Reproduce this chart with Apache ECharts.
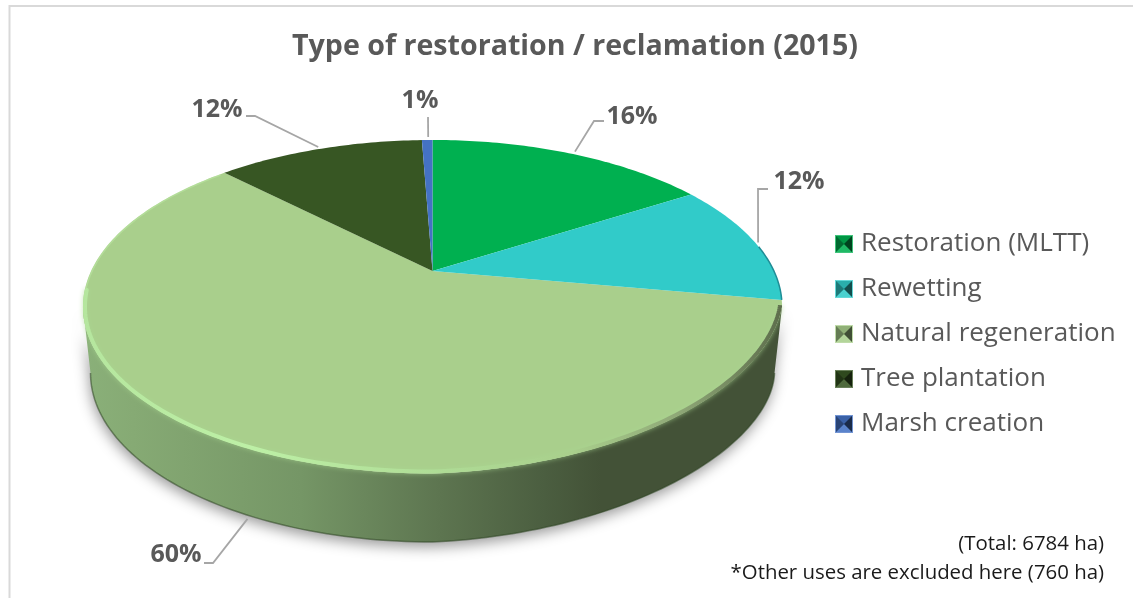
<!DOCTYPE html>
<html><head><meta charset="utf-8">
<style>html,body{margin:0;padding:0;background:#fff}#c{width:1133px;height:598px}</style>
<script src="https://cdn.jsdelivr.net/npm/echarts@6/dist/echarts.min.js"></script>
</head><body><div id="c"></div>
<script>
var categories = ['Restoration (MLTT)', 'Rewetting', 'Natural regeneration', 'Tree plantation', 'Marsh creation'];
var shares = [16.0, 11.8, 59.8, 11.8, 0.6];
var colors = ['#00b050', '#31cbc9', '#a9cf8c', '#375623', '#4472c4'];
var titleText = 'Type of restoration / reclamation (2015)';
var notes = ['(Total: 6784 ha)', '*Other uses are excluded here (760 ha)'];

// perspective disc geometry
var G = {cx: 432.5, cy: 271, a: 341.4, b: 159.1, k: 0.2144, midY: 306.8};
var W = {cy: 373, rx: 342, ry: 169};
var RIGHT_EDGE = 102.4 * Math.PI / 180, LEFT_EDGE = 257.6 * Math.PI / 180;
function proj(th) {
  var u = Math.sin(th), v = -Math.cos(th), w = 1 - G.k * v;
  var y = G.cy + G.b * v / w;
  if (th > RIGHT_EDGE && th < Math.PI) {
    y -= 13 * Math.sin(Math.PI * Math.pow((th - RIGHT_EDGE) / (Math.PI - RIGHT_EDGE), 0.5));
  }
  return [G.cx + G.a * u / w, y];
}
var total = shares.reduce(function (s, v) { return s + v; }, 0);
var cum = [], acc = 0;
shares.forEach(function (v) { cum.push(acc); acc += v; });
function ang(p) { return p / total * Math.PI * 2; }
function arc(t0, t1, n) {
  n = n || Math.max(4, Math.ceil(Math.abs(t1 - t0) * 60));
  var pts = [];
  for (var i = 0; i <= n; i++) pts.push(proj(t0 + (t1 - t0) * i / n));
  return pts;
}
// label placement: nudge from the slice edge, elbow points and text anchor
var labelLayout = [
  {nudge: [4, -2], elbow: [[594, 121], [604, 121]], text: [632, 117]},
  {nudge: [4, 1], elbow: [[758, 189], [768, 189]], text: [799, 182]},
  {nudge: [11, 74], elbow: [[213, 563], [204, 563]], text: [176, 555]},
  {nudge: [-1, -2], elbow: [[255, 116], [246, 116]], text: [217, 110]},
  {nudge: [1, -3], elbow: [[428, 117]], text: [420, 101]}
];
var LG = echarts.graphic.LinearGradient;
function wallChildren() {
  var pts = arc(RIGHT_EDGE, LEFT_EDGE, 160);
  var bottom = [];
  for (var i = 0; i <= 120; i++) {
    var t = Math.PI * i / 120; // left to right along the front
    var y = W.cy + W.ry * Math.sin(t);
    if (t > Math.PI / 2) y -= 11 * Math.sin(Math.PI * Math.pow((Math.PI - t) / (Math.PI / 2), 0.7));
    bottom.push([G.cx - W.rx * Math.cos(t), y]);
  }
  var wallPts = pts.concat(bottom);
  var grad = new LG(84, 0, 782, 0, [
    {offset: 0, color: '#8ab079'}, {offset: 0.07, color: '#86aa74'},
    {offset: 0.31, color: '#759666'}, {offset: 0.51, color: '#5d7550'},
    {offset: 0.66, color: '#4b5e40'}, {offset: 0.74, color: '#435237'}, {offset: 1, color: '#435237'}
  ], true);
  return [
    {type: 'polygon', shape: {points: wallPts}, style: {fill: grad, shadowBlur: 14, shadowColor: 'rgba(0,0,0,0.4)', shadowOffsetX: -1, shadowOffsetY: 5}},
    {type: 'polyline', shape: {points: bottom}, style: {fill: 'none', stroke: 'rgba(45,70,35,0.55)', lineWidth: 1.5}}
  ];
}
function rimChildren(t0, t1) {
  var grad = new LG(84, 0, 782, 0, [
    {offset: 0, color: '#b5e69e'}, {offset: 0.24, color: '#bdf0a6'},
    {offset: 0.52, color: '#aedb95'}, {offset: 0.7, color: '#a9cf8c'},
    {offset: 0.85, color: '#8fa877'}, {offset: 1, color: '#5d6d4c'}
  ], true);
  var inset = function (pts, d) {
    return pts.map(function (p) {
      var dx = p[0] - G.cx, dy = p[1] - G.midY, r = Math.sqrt(dx * dx + dy * dy);
      return [p[0] - dx / r * d, p[1] - dy / r * d];
    });
  };
  return [
    {type: 'polyline', shape: {points: inset(arc(RIGHT_EDGE, LEFT_EDGE + 0.1, 160), 2)}, style: {fill: 'none', stroke: grad, lineWidth: 4, lineCap: 'round', shadowBlur: 5, shadowColor: 'rgba(170,215,145,0.7)'}},
    {type: 'polyline', shape: {points: inset(arc(LEFT_EDGE + 0.1, t1 - 0.02, 50), 1)}, style: {fill: 'none', stroke: 'rgba(190,235,165,0.5)', lineWidth: 1.5}}
  ];
}
function makeRender(idx) {
  return function () {
    var t0 = ang(cum[idx]), t1 = ang(cum[idx] + shares[idx]);
    var children = [];
    if (idx === 2) children = children.concat(wallChildren());
    var apex = [G.cx, G.cy];
    children.push({type: 'polygon', shape: {points: [apex].concat(arc(t0, t1))}, style: {fill: colors[idx]}});
    if (idx === 2) children = children.concat(rimChildren(t0, t1));
    if (idx === 1) children.push({type: 'polyline', shape: {points: arc(t0 + (t1 - t0) * 0.55, t1)}, style: {fill: 'none', stroke: '#1f8d96', lineWidth: 1.5}});
    var L = labelLayout[idx];
    var tm = (t0 + t1) / 2, p = proj(tm);
    var anchor = [p[0] + L.nudge[0], p[1] + L.nudge[1]];
    children.push({type: 'polyline', shape: {points: [anchor].concat(L.elbow)}, style: {fill: 'none', stroke: '#a6a6a6', lineWidth: 1.8}});
    children.push({type: 'text', style: {x: L.text[0], y: L.text[1], text: Math.round(shares[idx] / total * 100) + '%', fill: '#595959', font: 'bold 25px "Open Sans"', align: 'center', verticalAlign: 'middle'}});
    return {type: 'group', children: children};
  };
}
function shade(hex, f) {
  var n = parseInt(hex.slice(1), 16), c = [n >> 16, (n >> 8) & 255, n & 255];
  c = c.map(function (v) { return Math.round(f >= 1 ? v + (255 - v) * (f - 1) : v * f); });
  return 'rgb(' + c.join(',') + ')';
}
function icon(hex) {
  var s = 36, m = s / 2, cv = document.createElement('canvas');
  cv.width = cv.height = s;
  var g = cv.getContext('2d');
  function tri(a, b, col) {
    g.fillStyle = col; g.beginPath(); g.moveTo(a[0], a[1]); g.lineTo(b[0], b[1]); g.lineTo(m, m); g.closePath(); g.fill();
  }
  g.fillStyle = shade(hex, 0.8); g.fillRect(0, 0, s, s);
  tri([0, 0], [s, 0], shade(hex, 0.85));
  tri([0, s], [s, s], shade(hex, 1.12));
  tri([0, 0], [0, s], shade(hex, 0.6));
  tri([s, 0], [s, s], shade(hex, 0.38));
  g.strokeStyle = shade(hex, 1.25); g.lineWidth = 2; g.strokeRect(1, 1, s - 2, s - 2);
  return 'image://' + cv.toDataURL();
}
var chart = echarts.init(document.getElementById('c'), null, {renderer: 'canvas'});
chart.setOption({
  animation: false,
  backgroundColor: '#fff',
  color: colors,
  title: {text: titleText, left: 292, top: 32, padding: 0, textStyle: {color: '#595959', fontFamily: 'Open Sans', fontWeight: 'bold', fontSize: 28.6}},
  legend: {
    orient: 'vertical', left: 835, top: 231, padding: 0, itemWidth: 18, itemHeight: 18, itemGap: 19, selectedMode: false,
    textStyle: {color: '#595959', fontFamily: 'Open Sans', fontSize: 26, padding: [0, 0, 0, 3]},
    data: categories.map(function (c, i) { return {name: c, icon: icon(colors[i])}; })
  },
  graphic: [
    {type: 'line', shape: {x1: 9.5, y1: 5, x2: 9.5, y2: 598}, style: {stroke: '#d9d9d9', lineWidth: 2}, silent: true},
    {type: 'line', shape: {x1: 9, y1: 6, x2: 1133, y2: 6}, style: {stroke: '#d9d9d9', lineWidth: 2}, silent: true},
    {type: 'text', style: {x: 1104, y: 544, text: notes[0], fill: '#1a1a1a', font: '20.4px "Open Sans"', align: 'right', verticalAlign: 'middle'}},
    {type: 'text', style: {x: 1104, y: 573, text: notes[1], fill: '#1a1a1a', font: '20.4px "Open Sans"', align: 'right', verticalAlign: 'middle'}}
  ],
  series: categories.map(function (c, i) {
    return {type: 'custom', name: c, coordinateSystem: 'none', silent: true, z: i === 2 ? 1 : 2, itemStyle: {color: colors[i]}, data: [[shares[i]]], renderItem: makeRender(i)};
  })
});
</script></body></html>
